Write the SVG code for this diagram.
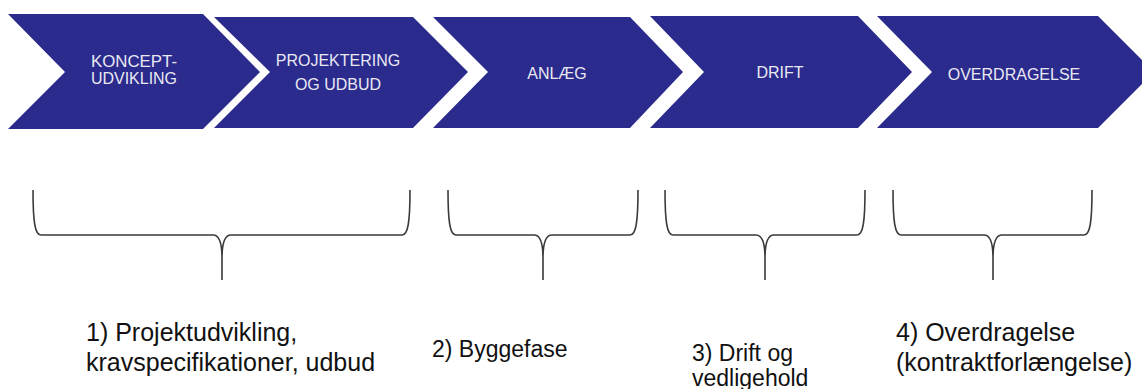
<svg xmlns="http://www.w3.org/2000/svg" width="1142" height="389" viewBox="0 0 1142 389">
  <style>
    .chev { fill: #2b2a8d; }
    .chev-label { font-family: "Liberation Sans", Arial, sans-serif; font-size: 16px; fill: #e9e9f2; text-anchor: middle; }
    .brace { fill: none; stroke: #3a3a3a; stroke-width: 1.6; stroke-linejoin: round; }
    .phase { font-family: "Liberation Sans", Arial, sans-serif; font-size: 25px; fill: #111; }
    .phase.small { font-size: 23px; }
  </style>
  <rect width="1142" height="389" fill="#ffffff"/>

  <!-- Process chevrons -->
  <g id="node-koncept">
    <polygon class="chev" points="8,14 203,14 260,72 203,129 8,129 65,72"/>
    <text class="chev-label" x="134" y="67" textLength="86" lengthAdjust="spacingAndGlyphs">KONCEPT-</text>
    <text class="chev-label" x="134" y="84" textLength="86" lengthAdjust="spacingAndGlyphs">UDVIKLING</text>
  </g>
  <g id="node-projektering">
    <polygon class="chev" points="214,17 413,17 468,72 413,128 214,128 270,72"/>
    <text class="chev-label" x="338" y="66">PROJEKTERING</text>
    <text class="chev-label" x="338" y="90">OG UDBUD</text>
  </g>
  <g id="node-anlaeg">
    <polygon class="chev" points="433,17 630,17 683,72 630,128 433,128 488,72"/>
    <text class="chev-label" x="557" y="79">ANLÆG</text>
  </g>
  <g id="node-drift">
    <polygon class="chev" points="650,16 858,16 912,72 858,128 650,128 704,72"/>
    <text class="chev-label" x="780" y="78">DRIFT</text>
  </g>
  <g id="node-overdragelse">
    <polygon class="chev" points="877,16 1098,16 1154,72 1098,128 877,128 932,72"/>
    <text class="chev-label" x="1014" y="80">OVERDRAGELSE</text>
  </g>

  <!-- Curly braces grouping the phases -->
  <g id="connectors">
    <path class="brace" d="M33,190 C33,222 35,235 41,235 H213 C218,235 222,240 222,258 V280 M222,258 C222,240 226,235 231,235 H402 C408,235 410,222 410,190"/>
    <path class="brace" d="M448,190 C448,222 450,235 456,235 H534 C539,235 543,240 543,258 V280 M543,258 C543,240 547,235 552,235 H630 C636,235 638,222 638,190"/>
    <path class="brace" d="M665,190 C665,222 667,235 673,235 H756 C761,235 765,240 765,258 V280 M765,258 C765,240 769,235 774,235 H857 C863,235 865,222 865,190"/>
    <path class="brace" d="M893,190 C893,222 895,235 901,235 H984 C989,235 993,240 993,258 V280 M993,258 C993,240 997,235 1002,235 H1084 C1090,235 1092,222 1092,190"/>
  </g>

  <!-- Phase descriptions -->
  <g id="label-1">
    <text class="phase" x="86" y="341">1) Projektudvikling,</text>
    <text class="phase" x="86" y="371">kravspecifikationer, udbud</text>
  </g>
  <g id="label-2">
    <text class="phase small" x="432" y="357">2) Byggefase</text>
  </g>
  <g id="label-3">
    <text class="phase small" x="692" y="361">3) Drift og</text>
    <text class="phase small" x="692" y="386">vedligehold</text>
  </g>
  <g id="label-4">
    <text class="phase" x="896" y="341">4) Overdragelse</text>
    <text class="phase" x="896" y="371">(kontraktforlængelse)</text>
  </g>
</svg>
